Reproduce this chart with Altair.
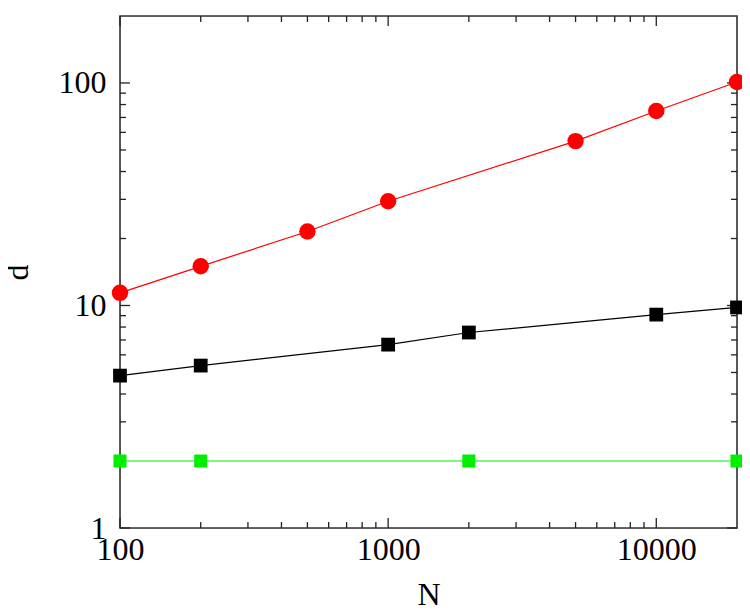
import altair as alt
import pandas as pd

# data
red_N = [100, 200, 500, 1000, 5000, 10000, 20000]
red_d = [11.4, 15.0, 21.5, 29.4, 54.8, 74.8, 101]
black_N = [100, 200, 1000, 2000, 10000, 20000]
black_d = [4.84, 5.37, 6.67, 7.56, 9.1, 9.8]
green_N = [100, 200, 2000, 20000]
green_d = [2.0, 2.0, 2.0, 2.0]

x_major = [100, 1000, 10000]
x_minor = [200, 300, 400, 500, 600, 700, 800, 900,
           2000, 3000, 4000, 5000, 6000, 7000, 8000, 9000]
y_major = [1, 10, 100]
y_minor = [2, 3, 4, 5, 6, 7, 8, 9, 20, 30, 40, 50, 60, 70, 80, 90]

W, H = 617, 512
FONT = "Times New Roman"

xs = alt.Scale(type="log", domain=[100, 20000], nice=False)
ys = alt.Scale(type="log", domain=[1, 200], nice=False)

xaxis = alt.Axis(values=x_major, format="d", ticks=False, domain=False, grid=False,
                 labelFont=FONT, labelFontSize=32, labelColor="black", labelPadding=6,
                 title="N", titleFont=FONT, titleFontSize=32, titleFontWeight="normal",
                 titleColor="black", titlePadding=14, labelFlush=False)
yaxis = alt.Axis(values=y_major, format="d", ticks=False, domain=False, grid=False,
                 labelFont=FONT, labelFontSize=32, labelColor="black", labelPadding=14,
                 title="d", titleFont=FONT, titleFontSize=32, titleFontWeight="normal",
                 titleColor="black", titlePadding=24, labelFlush=False)


def series(N, d, color, shape, size):
    df = pd.DataFrame({"N": N, "d": d})
    base = alt.Chart(df)
    line = base.mark_line(color=color, strokeWidth=1.2).encode(
        x=alt.X("N:Q", scale=xs, axis=xaxis),
        y=alt.Y("d:Q", scale=ys, axis=yaxis),
    )
    pts = base.mark_point(shape=shape, filled=True, color=color, size=size, opacity=1).encode(
        x=alt.X("N:Q", scale=xs), y=alt.Y("d:Q", scale=ys)
    )
    return [line, pts]


def xticks(vals, length):
    df = pd.DataFrame({"v": vals})
    b = alt.Chart(df).mark_rule(color="#222", strokeWidth=1.3)
    bottom = b.encode(x=alt.X("v:Q", scale=xs), y=alt.value(H), y2=alt.value(H - length))
    top = b.encode(x=alt.X("v:Q", scale=xs), y=alt.value(0), y2=alt.value(length))
    return [bottom, top]


def yticks(vals, length):
    df = pd.DataFrame({"v": vals})
    b = alt.Chart(df).mark_rule(color="#222", strokeWidth=1.3)
    left = b.encode(y=alt.Y("v:Q", scale=ys), x=alt.value(0), x2=alt.value(length))
    right = b.encode(y=alt.Y("v:Q", scale=ys), x=alt.value(W), x2=alt.value(W - length))
    return [left, right]


frame = alt.Chart(pd.DataFrame({"a": [0]})).mark_rect(
    fillOpacity=0, stroke="#333", strokeWidth=1.6
).encode(x=alt.value(0), x2=alt.value(W), y=alt.value(0), y2=alt.value(H))

layers = [frame]
layers += xticks(x_major, 10) + xticks(x_minor, 6)
layers += yticks(y_major, 10) + yticks(y_minor, 6)
layers += series(green_N, green_d, "#00ee00", "square", 170)
layers += series(black_N, black_d, "black", "square", 190)
layers += series(red_N, red_d, "#ff0000", "circle", 270)

chart = alt.layer(*layers).properties(
    width=W, height=H,
    autosize=alt.AutoSizeParams(type="none"),
    padding={"left": 112, "top": 8, "right": 5, "bottom": 77},
).configure_view(stroke=None).configure(background="white")

chart.save("out.html", embed_options={"renderer": "svg", "actions": False})
